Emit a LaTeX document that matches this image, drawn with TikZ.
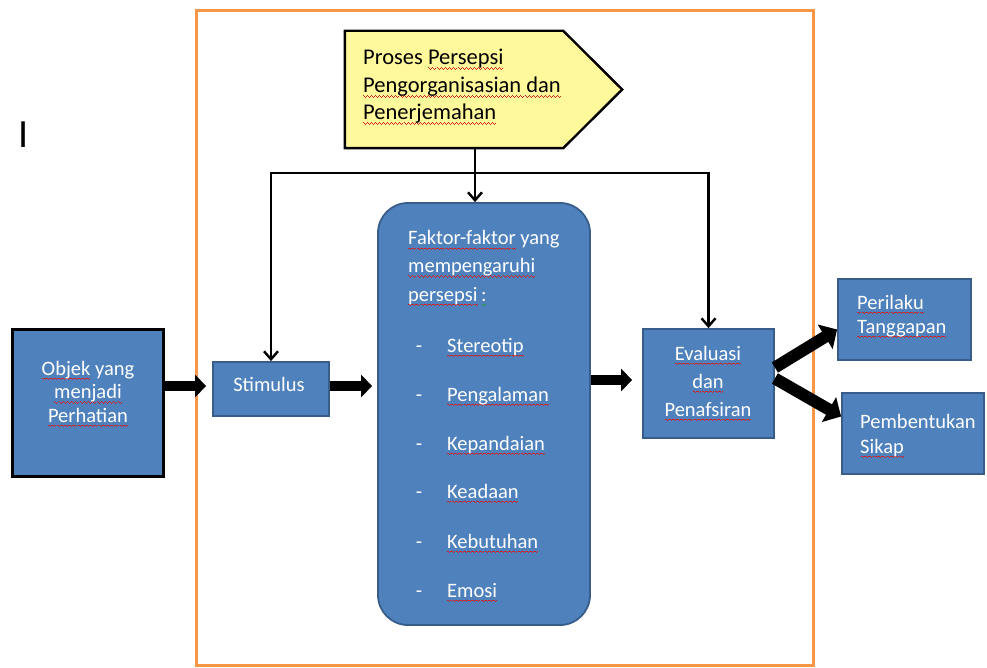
\documentclass[tikz,border=0pt]{standalone}
\usepackage{fontspec}
\setmainfont{Carlito}
\usetikzlibrary{arrows.meta,calc}
\definecolor{boxblue}{HTML}{4F81BD}
\definecolor{boxedge}{HTML}{385D8A}
\definecolor{frameorange}{HTML}{F79646}
\definecolor{paleyellow}{HTML}{FFF99C}
\definecolor{squig}{HTML}{D02020}
\definecolor{squiggreen}{HTML}{30A030}
\newcommand\wavecell{\hbox{\rule[-3.4pt]{1pt}{0.9pt}\rule[-4.2pt]{1pt}{0.9pt}\rule[-5pt]{1pt}{0.9pt}\rule[-4.2pt]{1pt}{0.9pt}}}
\newcommand\wavein[2]{\leavevmode\setbox0\hbox{#2}\rlap{\color{#1}\hbox to \wd0{\xleaders\wavecell\hfill}}\box0\relax}
\newcommand\sq[1]{\wavein{squig}{#1}}
\newcommand\sqg[1]{\wavein{squiggreen}{#1}}
\tikzset{mybarb/.tip={Straight Barb[length=8pt,width=14pt,line width=2.4pt]}}
\begin{document}
\begin{tikzpicture}[x=1pt,y=-1pt,
  bluebox/.style={draw=boxedge, line width=1.8pt, fill=boxblue, inner sep=0pt},
  lbl/.style={text=white, font=\fontsize{20.5}{28}\selectfont, inner sep=0pt},
  thinarr/.style={line width=2.4pt, line join=miter},
  fatarr/.style={line width=10pt, -{Triangle[length=11pt,width=22pt]}},
  fatarrb/.style={line width=12pt, -{Triangle[length=14pt,width=28pt]}},
]
\useasboundingbox (0,0) rectangle (987,668);
\fill[white] (0,0) rectangle (987,668);
% frame
\draw[frameorange, line width=3pt] (196,11) rectangle (813,665);
% stray letter
\node[inner sep=0pt, anchor=base, font=\fontsize{40}{40}\selectfont] (ibar) at (24,148) {I};
% yellow process shape
\node[inner sep=0pt, minimum width=218pt, minimum height=117pt] (yel) at (454,89.5) {};
\draw[fill=paleyellow, line width=2.4pt, line join=miter] (yel.north west) -- (yel.north east) -- ($(yel.east)+(59,0)$) -- (yel.south east) -- (yel.south west) -- cycle;
\node[inner sep=0pt, anchor=base west, font=\fontsize{22.5}{27.5}\selectfont] (yelt) at (363,65)
  {\begin{tabular}[t]{@{}l@{}}Proses \sq{Persepsi}\\ \sq{Pengorganisasian dan}\\ \sq{Penerjemahan}\end{tabular}};
% boxes
\node[bluebox, draw=black, line width=3pt, minimum width=151pt, minimum height=147pt] (obj) at (87.5,402.5) {};
\node[lbl, anchor=base, font=\fontsize{20.5}{23.5}\selectfont] (objt) at (88,375)
  {\begin{tabular}[t]{@{}c@{}}\sq{Objek} yang\\ \sq{menjadi}\\ \sq{Perhatian}\end{tabular}};
\node[bluebox, minimum width=116pt, minimum height=54pt] (stim) at (271,389) {};
\node[lbl, anchor=base] (stimt) at (269,391) {Stimulus};
\node[bluebox, rounded corners=30pt, minimum width=212pt, minimum height=422pt] (fak) at (484,414) {};
\node[lbl, anchor=base west] (fakt) at (408,245)
  {\begin{tabular}[t]{@{}l@{}}\sq{Faktor-faktor} yang\\ \sq{mempengaruhi}\\ \sq{persepsi}\,\sqg{:}\end{tabular}};
\foreach \t/\yy [count=\i] in {Stereotip/352,Pengalaman/401,Kepandaian/450,Keadaan/498,Kebutuhan/548,Emosi/597}{
  \node[lbl, anchor=base] (dash\i) at (419,\yy) {-};
  \node[lbl, anchor=base west] (item\i) at (447,\yy) {\sq{\t}};
}
\node[bluebox, minimum width=131pt, minimum height=109pt] (eval) at (708.5,383.5) {};
\node[lbl, anchor=base] (evalt) at (708,360)
  {\begin{tabular}[t]{@{}c@{}}\sq{Evaluasi}\\ \sq{dan}\\ \sq{Penafsiran}\end{tabular}};
\node[bluebox, minimum width=133pt, minimum height=81pt] (peri) at (904.5,319.5) {};
\node[lbl, anchor=base west, font=\fontsize{20.5}{24}\selectfont] (perit) at (857,309)
  {\begin{tabular}[t]{@{}l@{}}\sq{Perilaku}\\ \sq{Tanggapan}\end{tabular}};
\node[bluebox, minimum width=142pt, minimum height=81pt] (pemb) at (913,433.5) {};
\node[lbl, anchor=base west, font=\fontsize{20.5}{25}\selectfont] (pembt) at (860,428)
  {\begin{tabular}[t]{@{}l@{}}Pembentukan\\ \sq{Sikap}\end{tabular}};
% thin connectors
\coordinate (bar) at (0,173);
\draw[thinarr, -{mybarb}] ([xshift=21pt]yel.south) -- ([xshift=21pt]yel.south |- fak.north);
\draw[thinarr, {mybarb}-{mybarb}] (stim.north) -- (stim.north |- bar) -- (eval.north |- bar) -- (eval.north);
% thick arrows
\draw[fatarr] (obj.east |- 0,386) -- ([xshift=-6pt]stim.west |- 0,386);
\draw[fatarr] (stim.east |- 0,386) -- ([xshift=-5pt]fak.west |- 0,386);
\draw[fatarr] (fak.east |- 0,380) -- ([xshift=-10pt]eval.west |- 0,380);
\draw[fatarrb] ([yshift=16pt]eval.east) -- ([yshift=-10pt]peri.west);
\draw[fatarrb] ([yshift=5pt]eval.east) -- ([yshift=17pt]pemb.west);
\end{tikzpicture}
\end{document}
